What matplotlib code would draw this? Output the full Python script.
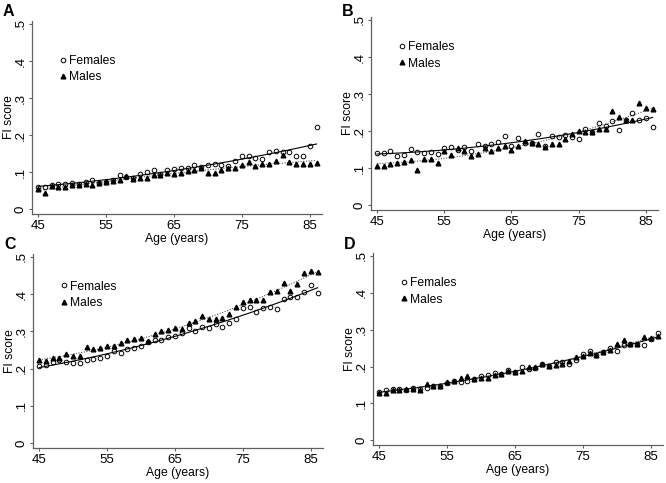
import numpy as np
import matplotlib
matplotlib.use("Agg")
from matplotlib import pyplot as plt

plt.rcParams['font.family'] = ['Liberation Sans', 'DejaVu Sans']

ages = list(range(45, 87))

# panel A
a_females = [0.061, 0.061, 0.065, 0.067, 0.067, 0.071, 0.067, 0.074, 0.080, 0.071,
             0.073, 0.078, 0.092, 0.088, 0.085, 0.096, 0.100, 0.105, 0.096, 0.107,
             0.109, 0.110, 0.110, 0.119, 0.113, 0.119, 0.123, 0.119, 0.116, 0.129,
             0.143, 0.144, 0.138, 0.136, 0.154, 0.157, 0.154, 0.155, 0.143, 0.143,
             0.170, 0.223]
a_males = [0.055, 0.045, 0.063, 0.061, 0.061, 0.064, 0.065, 0.068, 0.064, 0.072,
           0.073, 0.077, 0.079, 0.089, 0.081, 0.084, 0.084, 0.092, 0.091, 0.097,
           0.096, 0.098, 0.104, 0.105, 0.110, 0.098, 0.097, 0.105, 0.111, 0.111,
           0.118, 0.127, 0.116, 0.122, 0.122, 0.129, 0.147, 0.127, 0.123, 0.123,
           0.123, 0.125]

# panel B
b_females = [0.142, 0.140, 0.145, 0.132, 0.136, 0.152, 0.143, 0.140, 0.143, 0.139,
             0.154, 0.156, 0.149, 0.157, 0.145, 0.164, 0.160, 0.164, 0.170, 0.186,
             0.159, 0.182, 0.167, 0.167, 0.191, 0.160, 0.188, 0.183, 0.190, 0.185,
             0.179, 0.206, 0.198, 0.222, 0.213, 0.226, 0.204, 0.229, 0.250, 0.229,
             0.235, 0.211]
b_males = [0.107, 0.107, 0.112, 0.113, 0.116, 0.122, 0.094, 0.125, 0.125, 0.114,
           0.147, 0.135, 0.155, 0.145, 0.132, 0.139, 0.154, 0.145, 0.154, 0.160,
           0.148, 0.160, 0.174, 0.167, 0.165, 0.158, 0.166, 0.166, 0.178, 0.193,
           0.200, 0.198, 0.198, 0.207, 0.206, 0.253, 0.237, 0.231, 0.229, 0.276,
           0.262, 0.259]

# panel C
c_females = [0.206, 0.211, 0.218, 0.222, 0.217, 0.214, 0.214, 0.223, 0.227, 0.229,
             0.233, 0.247, 0.242, 0.252, 0.256, 0.262, 0.271, 0.278, 0.277, 0.284,
             0.287, 0.297, 0.310, 0.302, 0.312, 0.309, 0.321, 0.313, 0.323, 0.334,
             0.362, 0.365, 0.351, 0.362, 0.367, 0.361, 0.387, 0.393, 0.392, 0.405,
             0.425, 0.402]
c_males = [0.222, 0.220, 0.230, 0.230, 0.239, 0.235, 0.234, 0.259, 0.252, 0.255,
           0.260, 0.260, 0.270, 0.276, 0.280, 0.283, 0.274, 0.294, 0.302, 0.303,
           0.310, 0.307, 0.324, 0.327, 0.341, 0.334, 0.334, 0.337, 0.347, 0.365,
           0.380, 0.385, 0.385, 0.385, 0.405, 0.408, 0.431, 0.409, 0.427, 0.458,
           0.462, 0.459]

# panel D
d_females = [0.132, 0.135, 0.138, 0.138, 0.135, 0.141, 0.138, 0.143, 0.148, 0.148,
             0.154, 0.161, 0.159, 0.162, 0.165, 0.173, 0.177, 0.182, 0.180, 0.191,
             0.186, 0.198, 0.193, 0.195, 0.206, 0.201, 0.212, 0.212, 0.207, 0.217,
             0.234, 0.243, 0.232, 0.239, 0.250, 0.243, 0.257, 0.261, 0.261, 0.259,
             0.275, 0.291]
d_males = [0.129, 0.127, 0.137, 0.137, 0.140, 0.140, 0.137, 0.152, 0.148, 0.147,
           0.159, 0.161, 0.168, 0.174, 0.165, 0.170, 0.168, 0.177, 0.180, 0.187,
           0.186, 0.189, 0.200, 0.200, 0.206, 0.201, 0.203, 0.208, 0.215, 0.225,
           0.229, 0.237, 0.232, 0.239, 0.246, 0.261, 0.273, 0.261, 0.261, 0.281,
           0.276, 0.282]

# letter, data, axes box in pixels (left, top, right, bottom), legend anchor, letter top
panels = [
    ("A", a_females, a_males, [32, 21, 322, 214], (0.10, 0.75), 4),
    ("B", b_females, b_males, [371, 17, 658, 210], (0.10, 0.80), 4),
    ("C", c_females, c_males, [33, 254, 323, 448], (0.10, 0.79), 237),
    ("D", d_females, d_males, [373, 253, 663, 445], (0.10, 0.80), 237),
]

W, H = 666, 483
fig = plt.figure(figsize=(W / 100, H / 100), dpi=100)
axcol = '#606060'

for letter, fem, mal, box, legpos, ltop in panels:
    x0, y0, x1, y1 = box
    ax = fig.add_axes([x0 / W, (H - y1) / H, (x1 - x0) / W, (y1 - y0) / H])
    x = np.array(ages)

    # quadratic fit lines
    ff = np.polyval(np.polyfit(x, fem, 2), x)
    mf = np.polyval(np.polyfit(x, mal, 2), x)
    ax.plot(x, ff, color='black', lw=0.8, zorder=2)
    ax.plot(x, mf, color='#555555', lw=0.8, ls=(0, (1, 1.4)), zorder=2)

    ax.plot(x, fem, 'o', ms=3.3, mfc='none', mec='black', mew=0.7,
            label='Females', zorder=3)
    ax.plot(x, mal, '^', ms=3.4, color='black', label='Males', zorder=3)

    ax.set_xlim(44.1, 86.8)
    ax.set_ylim(-0.013, 0.508)
    ax.set_xticks([45, 55, 65, 75, 85])
    ax.set_yticks([0, 0.1, 0.2, 0.3, 0.4, 0.5])
    ax.set_yticklabels(['0', '.1', '.2', '.3', '.4', '.5'], rotation=90, va='center')
    ax.tick_params(axis='both', colors=axcol, labelcolor='black', labelsize=9.5,
                   length=2.5, width=0.8, pad=1.5)
    for s in ['top', 'right']:
        ax.spines[s].set_visible(False)
    for s in ['left', 'bottom']:
        ax.spines[s].set_color(axcol)
        ax.spines[s].set_linewidth(0.9)
    ax.set_xlabel('Age (years)', fontsize=8.7, va='center')
    ax.set_ylabel('FI score', fontsize=8.7, va='center')
    ax.xaxis.set_label_coords(0.5, -25 / (y1 - y0))
    ax.yaxis.set_label_coords(-23 / (x1 - x0), 0.5)

    ax.legend(loc='center left', bbox_to_anchor=legpos, frameon=False,
              fontsize=8.7, handlelength=0.4, handletextpad=0.25,
              labelspacing=0.35, borderpad=0, borderaxespad=0)

    fig.text((x0 - 29) / W, 1 - ltop / H, letter, fontsize=11.5,
             fontweight='bold', va='top', ha='left')

fig.savefig('out.png', dpi=100)
